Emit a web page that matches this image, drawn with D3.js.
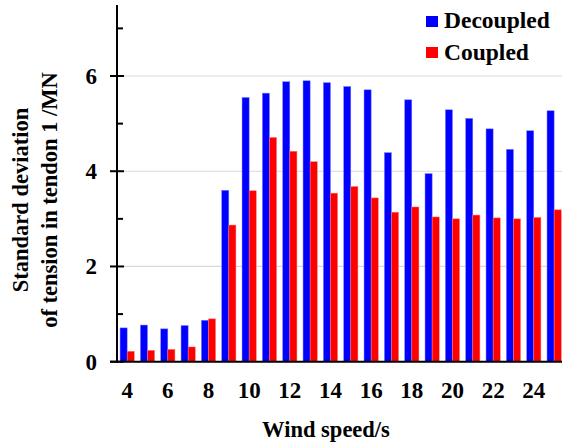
<!DOCTYPE html>
<html><head><meta charset="utf-8">
<script src="https://cdn.jsdelivr.net/npm/d3@7"></script>
<style>
html,body{margin:0;padding:0;background:#fff;}
</style></head>
<body><svg id="c" width="562" height="448"></svg>
<script>
const windSpeeds = [4,5,6,7,8,9,10,11,12,13,14,15,16,17,18,19,20,21,22,23,24,25];
const decoupled = [0.71,0.77,0.69,0.76,0.87,3.60,5.55,5.64,5.88,5.90,5.86,5.78,5.71,4.39,5.50,3.95,5.29,5.11,4.89,4.46,4.85,5.27];
const coupled   = [0.22,0.24,0.26,0.31,0.90,2.87,3.59,4.71,4.42,4.20,3.54,3.68,3.44,3.14,3.25,3.04,3.00,3.08,3.02,3.00,3.03,3.19];
const seriesNames = ["Decoupled","Coupled"];
const seriesColors = ["#0000ff","#ff0000"];
const xTickLabels = [4,6,8,10,12,14,16,18,20,22,24];
const yMajorTicks = [0,2,4,6];
const yMinorTicks = [1,3,5,7];

const FONT = "'Liberation Serif', Tinos, 'Times New Roman', Times, serif";
const svg = d3.select("#c");
const X0 = 117, X1 = 564.3, Y0 = 361.7, YTOP = 5;
const xScale = d3.scaleBand().domain(windSpeeds).range([X0, X1]).paddingInner(0.3).paddingOuter(0.15);
const xsScale = d3.scaleBand().domain(seriesNames).range([0, xScale.bandwidth()]);
const yScale = d3.scaleLinear().domain([0, 6]).range([Y0, 76]);

function addText(parent, size) {
  return parent.append("text").attr("font-weight", "bold").attr("font-size", size)
    .attr("fill", "#000").style("font-family", FONT);
}

// gridlines
svg.append("g").selectAll("line").data(yMajorTicks.filter(d => d > 0)).join("line")
  .attr("x1", X0).attr("x2", 562).attr("y1", d => yScale(d)).attr("y2", d => yScale(d))
  .attr("stroke", "#d9d9d9").attr("stroke-width", 1.2);

// bars
const rows = windSpeeds.map((w, i) => ({w, vals: [decoupled[i], coupled[i]]}));
const groups = svg.append("g").selectAll("g").data(rows).join("g")
  .attr("transform", d => `translate(${xScale(d.w)},0)`);
groups.selectAll("rect").data(d => d.vals.map((v, j) => ({v, j}))).join("rect")
  .attr("x", d => xsScale(seriesNames[d.j]))
  .attr("y", d => yScale(d.v))
  .attr("width", xsScale.bandwidth())
  .attr("height", d => Y0 - yScale(d.v))
  .attr("fill", d => seriesColors[d.j])
  .attr("stroke", d => d.j === 0 ? "#8080ff" : "#ff8080")
  .attr("stroke-width", 0.5);

// axes lines
svg.append("line").attr("x1", X0).attr("x2", X0).attr("y1", YTOP).attr("y2", Y0 + 1)
  .attr("stroke", "#000").attr("stroke-width", 2);
svg.append("line").attr("x1", 110).attr("x2", 562).attr("y1", Y0).attr("y2", Y0)
  .attr("stroke", "#000").attr("stroke-width", 2);

// y ticks
svg.append("g").selectAll("line").data(yMajorTicks).join("line")
  .attr("x1", 110).attr("x2", 124).attr("y1", d => yScale(d)).attr("y2", d => yScale(d))
  .attr("stroke", "#000").attr("stroke-width", 2);
svg.append("g").selectAll("line").data(yMinorTicks).join("line")
  .attr("x1", X0).attr("x2", 123).attr("y1", d => yScale(d)).attr("y2", d => yScale(d))
  .attr("stroke", "#000").attr("stroke-width", 2);
yMajorTicks.forEach(d => {
  addText(svg, 23).attr("x", 97).attr("y", yScale(d) + 8).attr("text-anchor", "end").text(String(d));
});

// x tick labels
xTickLabels.forEach(d => {
  addText(svg, 23).attr("x", xScale(d) + xScale.bandwidth() / 2).attr("y", 398)
    .attr("text-anchor", "middle").text(String(d));
});

// axis titles
addText(svg, 22.5).attr("x", 326).attr("y", 437).attr("text-anchor", "middle").text("Wind speed/s");
addText(svg, 22.5).attr("transform", "translate(28,200) rotate(-90)").attr("text-anchor", "middle").text("Standard deviation");
addText(svg, 22.5).attr("transform", "translate(56.5,200) rotate(-90)").attr("text-anchor", "middle").text("of tension in tendon 1 /MN");

// legend
seriesNames.forEach((s, i) => {
  svg.append("rect").attr("x", 426).attr("y", 16 + i * 31).attr("width", 12).attr("height", 11)
    .attr("fill", seriesColors[i]);
  addText(svg, 23.5).attr("x", 444).attr("y", 28 + i * 31.5).text(s);
});
</script></body></html>
